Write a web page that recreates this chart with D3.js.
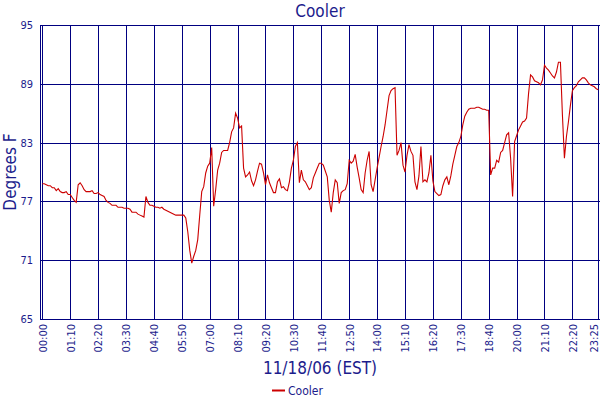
<!DOCTYPE html>
<html><head><meta charset="utf-8">
<script src="https://cdn.jsdelivr.net/npm/d3@7"></script>
<style>body{margin:0;background:#fff}svg{display:block}</style>
</head><body>
<svg id="c" width="600" height="400"></svg>
<script>
const title = "Cooler";
const xTitle = "11/18/06 (EST)";
const yTitle = "Degrees F";
const seriesName = "Cooler";
const yTicks = [65, 71, 77, 83, 89, 95];
const xTickIndex = [0,14,28,42,56,70,84,98,112,126,140,154,168,182,196,210,224,238,252,266,279];
const xTickLabels = ["00:00","01:10","02:20","03:30","04:40","05:50","07:00","08:10","09:20","10:30","11:40","12:50","14:00","15:10","16:20","17:30","18:40","20:00","21:10","22:20","23:25"];
const coolerTemps = [
78.8,78.8,78.7,78.6,78.6,78.4,78.4,78.1,78.3,78.0,77.9,77.9,78.0,77.7,77.7,77.4,77.1,76.9,78.7,78.9,
78.6,78.2,78.0,78.0,78.0,78.1,77.8,77.8,77.9,77.7,77.6,77.5,77.1,76.9,76.8,76.6,76.6,76.6,76.4,76.4,
76.4,76.3,76.3,76.3,76.2,75.9,75.9,75.9,75.7,75.6,75.5,75.4,77.5,76.9,76.6,76.6,76.5,76.4,76.4,76.3,
76.4,76.2,76.1,76.0,75.9,75.8,75.7,75.6,75.6,75.6,75.6,75.6,75.3,73.9,72.0,70.7,71.4,72.0,73.1,75.6,
78.0,78.5,79.9,80.6,80.9,82.5,76.5,78.2,80.2,80.9,82.0,82.2,82.2,82.2,83.0,84.1,84.5,86.0,85.5,84.5,
84.7,80.4,79.5,79.7,80.0,79.1,78.6,79.2,80.1,80.9,80.8,79.9,78.7,79.7,78.9,78.4,77.9,77.9,79.0,79.3,
78.4,78.5,78.2,78.1,79.0,80.4,81.2,82.6,83.0,78.9,80.2,79.2,79.0,78.6,78.2,78.4,79.4,79.9,80.4,80.9,
80.9,80.7,80.1,79.5,77.1,75.9,77.9,79.2,78.9,76.8,77.9,78.1,78.2,78.8,81.2,80.9,81.1,81.8,80.5,79.4,
78.2,77.9,79.9,81.2,82.1,78.7,78.0,79.2,80.4,81.5,82.6,83.6,84.8,86.3,87.8,88.3,88.5,88.6,81.7,82.2,
83.0,80.7,80.0,81.7,82.8,82.1,81.7,79.0,78.2,79.6,82.6,79.0,79.2,79.0,79.9,81.7,79.1,78.0,77.8,77.6,
77.7,78.6,79.2,79.5,78.7,79.6,80.8,81.7,82.6,83.0,83.6,84.8,85.7,86.1,86.4,86.5,86.5,86.5,86.6,86.6,
86.5,86.4,86.4,86.3,86.3,79.7,80.4,80.4,81.2,81.0,82.0,82.2,83.0,83.8,84.0,81.4,77.5,83.1,83.7,84.3,
84.7,85.1,85.2,85.5,88.0,89.9,89.7,89.3,89.2,89.1,88.9,89.4,90.9,90.6,90.4,90.1,89.8,89.6,90.2,91.2,
91.2,85.8,81.4,83.6,85.1,86.8,88.3,88.6,88.8,89.2,89.4,89.6,89.6,89.4,89.1,88.9,88.8,88.7,88.5,88.4
];

const navy = "#000080";
const textCol = "#1c1c8c";
const font = "Tahoma, 'DejaVu Sans Condensed', 'Liberation Sans', sans-serif";
const svg = d3.select("#c");
const L = 40, T = 25, B = 319, R = 600;
const x = d3.scaleLinear().domain([0, coolerTemps.length - 1]).range([42.3, 598.3]);
const y = d3.scaleLinear().domain([65, 95]).range([B, T]);

// vertical grid via axis
const gx = svg.append("g").attr("transform", `translate(0,${B})`)
  .call(d3.axisBottom(x).tickValues(xTickIndex).tickFormat((d,i)=>xTickLabels[i]).tickSize(-(B-T)).tickSizeOuter(0));
gx.select(".domain").remove();
gx.selectAll(".tick line").attr("stroke", navy).attr("stroke-width", 1).attr("shape-rendering","crispEdges");
gx.selectAll(".tick text").attr("fill", textCol).attr("font-family", font).attr("font-size", 11)
  .attr("transform", "rotate(-90)").attr("text-anchor", "end").attr("x", -5)
  .attr("y", (d,i)=> i === xTickIndex.length - 1 ? -4.5 : 0).attr("dy", "0.35em");

// horizontal grid via axis
const gy = svg.append("g").attr("transform", `translate(${L},0)`)
  .call(d3.axisLeft(y).tickValues(yTicks).tickFormat(d3.format("d")).tickSize(-(R-L)).tickSizeOuter(0));
gy.select(".domain").remove();
gy.selectAll(".tick line").attr("stroke", navy).attr("stroke-width", 1).attr("shape-rendering","crispEdges");
gy.selectAll(".tick text").attr("fill", textCol).attr("font-family", font).attr("font-size", 11).attr("x", -7);

// left frame line
svg.append("line").attr("x1", L).attr("x2", L).attr("y1", T).attr("y2", B)
  .attr("stroke", navy).attr("stroke-width", 1).attr("shape-rendering","crispEdges");

// data line
const line = d3.line().x((d,i)=>x(i)).y(d=>y(d));
svg.append("path").datum(coolerTemps).attr("d", line)
  .attr("fill","none").attr("stroke","#cc0000").attr("stroke-width",1.1);

// titles
svg.append("text").attr("x", 320).attr("y", 17).attr("text-anchor","middle")
  .attr("font-family", font).attr("font-size", 17).attr("fill", textCol).text(title);
svg.append("text").attr("x", 320).attr("y", 374).attr("text-anchor","middle")
  .attr("font-family", font).attr("font-size", 17).attr("fill", textCol).text(xTitle);
svg.append("text").attr("transform", "translate(16,172) rotate(-90)").attr("text-anchor","middle")
  .attr("font-family", font).attr("font-size", 17).attr("fill", textCol).text(yTitle);

// legend
svg.append("line").attr("x1", 272).attr("x2", 285).attr("y1", 390.5).attr("y2", 390.5)
  .attr("stroke","#cc0000").attr("stroke-width",2);
svg.append("text").attr("x", 288).attr("y", 395).attr("font-family", font).attr("font-size", 12)
  .attr("fill", textCol).text(seriesName);
</script>
</body></html>
